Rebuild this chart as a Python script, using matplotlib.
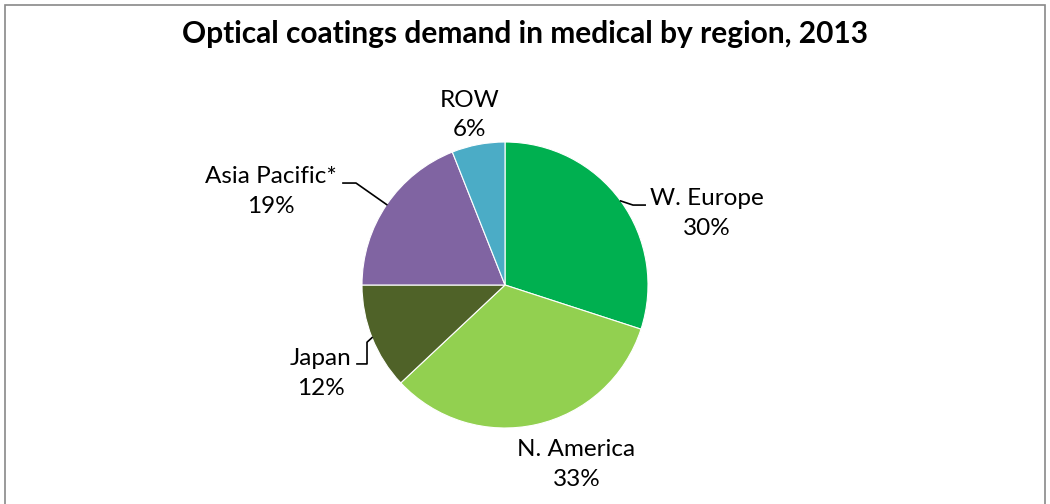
import numpy as np
import matplotlib.pyplot as plt
from matplotlib.patches import Rectangle

regions = ['W. Europe', 'N. America', 'Japan', 'Asia Pacific*', 'ROW']
shares = [30, 33, 12, 19, 6]
colors = ['#00B050', '#92D050', '#4F6228', '#8064A2', '#4BACC6']

# label centres and leader-line elbows (pie radius = 1)
label_pos = [(1.41, 0.50), (0.50, -1.255), (-1.29, -0.62), (-1.635, 0.655), (-0.245, 1.19)]
leader = [[(0.98, 0.559), (0.895, 0.559)],
          None,
          [(-1.035, -0.552), (-0.965, -0.552), (-0.965, -0.40)],
          [(-1.133, 0.713), (-1.042, 0.713)],
          None]

plt.rcParams['font.family'] = ['Lato', 'DejaVu Sans']

W, H = 1050, 504
fig = plt.figure(figsize=(W / 100, H / 100), dpi=100)
fig.patches.append(Rectangle((5 / W, -0.1), 1040 / W, 1.1 - 5 / H, transform=fig.transFigure,
                             fill=False, edgecolor='#898989', linewidth=1.2))

cx, cy, r = 505, 285, 143
ax = fig.add_axes([(cx - r) / W, (H - cy - r) / H, 2 * r / W, 2 * r / H])
wedges, _ = ax.pie(shares, colors=colors, startangle=90, counterclock=False, radius=1,
                   wedgeprops=dict(linewidth=0.8, edgecolor='white'))
ax.set_xlim(-1, 1)
ax.set_ylim(-1, 1)
ax.axis('off')

for w, name, val, pos, pts in zip(wedges, regions, shares, label_pos, leader):
    ax.text(pos[0], pos[1], f'{name}\n{val}%', ha='center', va='center', fontsize=17.5,
            linespacing=1.5, clip_on=False)
    if pts:
        mid = np.deg2rad((w.theta1 + w.theta2) / 2)
        xs = [p[0] for p in pts] + [np.cos(mid)]
        ys = [p[1] for p in pts] + [np.sin(mid)]
        ax.plot(xs, ys, color='black', linewidth=1.2, clip_on=False)

fig.text(0.5, 1 - 34 / H, 'Optical coatings demand in medical by region, 2013',
         ha='center', va='center', fontsize=21.5, fontweight='bold')

fig.savefig('out.png', dpi=100)
